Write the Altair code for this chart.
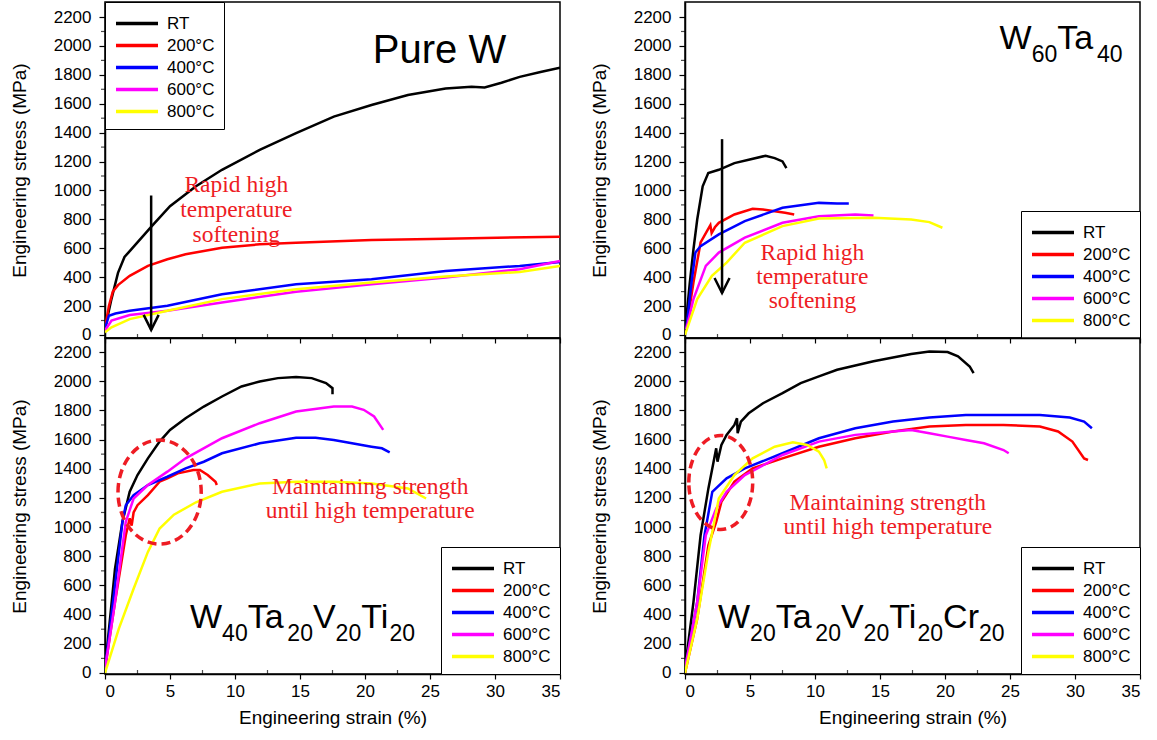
import altair as alt
import pandas as pd

SANS = "Liberation Sans, Arial, sans-serif"
SERIF = "Liberation Serif, Times New Roman, serif"
RED = "#ee1c24"

SERIES = ["RT", "200°C", "400°C", "600°C", "800°C"]
COLORS = ["#000000", "#ff0000", "#0000ff", "#ff00ff", "#ffff00"]

X_TICKS = [0, 5, 10, 15, 20, 25, 30, 35]
Y_TICKS = [0, 200, 400, 600, 800, 1000, 1200, 1400, 1600, 1800, 2000, 2200]
X_MINOR = [2.5, 7.5, 12.5, 17.5, 22.5, 27.5, 32.5]
Y_MINOR = [100, 300, 500, 700, 900, 1100, 1300, 1500, 1700, 1900, 2100]

# ---------------- Pure W ----------------
pw_rt_x = [0, 0.5, 1.0, 1.5, 1.8, 3.6, 5.0, 7.0, 9.0, 11.9, 14.7, 17.6, 20.5, 23.3, 26.2, 28.2, 29.2, 30.5, 31.9, 33.5, 35]
pw_rt_y = [45, 250, 430, 540, 570, 753, 891, 1029, 1143, 1281, 1396, 1511, 1591, 1660, 1706, 1717, 1713, 1745, 1786, 1820, 1850]
pw_200_x = [0, 0.3, 0.6, 1.0, 1.9, 3.3, 4.8, 6.2, 9.0, 11.9, 14.7, 20.5, 26.2, 35]
pw_200_y = [45, 200, 300, 345, 409, 478, 524, 558, 604, 627, 638, 657, 666, 680]
pw_400_x = [0, 0.3, 0.8, 1.9, 4.8, 9.0, 14.7, 20.5, 26.2, 31.9, 35]
pw_400_y = [45, 133, 148, 168, 202, 282, 351, 386, 443, 478, 505]
pw_600_x = [0, 0.5, 1.9, 4.8, 9.0, 14.7, 20.5, 26.2, 31.9, 35]
pw_600_y = [30, 99, 138, 168, 225, 299, 351, 397, 455, 512]
pw_800_x = [0, 0.5, 1.9, 4.8, 9.0, 14.7, 20.5, 26.2, 31.9, 35]
pw_800_y = [18, 53, 110, 168, 248, 317, 363, 404, 436, 478]

# ---------------- W60Ta40 ----------------
wt_rt_x = [0, 0.37, 0.65, 0.94, 1.36, 1.79, 2.6, 3.8, 4.9, 6.2, 6.9, 7.5, 7.8]
wt_rt_y = [18, 363, 592, 799, 1029, 1120, 1143, 1189, 1212, 1240, 1224, 1201, 1155]
wt_200_x = [0.1, 0.65, 1.2, 1.7, 1.95, 2.05, 2.3, 2.6, 3.8, 5.2, 6.0, 6.9, 7.7, 8.4]
wt_200_y = [41, 363, 640, 720, 760, 705, 745, 776, 834, 873, 868, 856, 845, 834]
wt_400_x = [0.1, 0.5, 0.8, 1.2, 2.6, 4.6, 7.5, 10.3, 11.7, 12.6]
wt_400_y = [41, 363, 570, 615, 696, 788, 880, 914, 909, 909]
wt_600_x = [0.1, 0.65, 1.6, 2.6, 4.6, 7.5, 10.3, 13.1, 14.5]
wt_600_y = [41, 248, 478, 570, 673, 776, 822, 834, 827]
wt_800_x = [0, 0.94, 2.07, 3.2, 4.6, 7.5, 10.3, 14.5, 17.4, 18.8, 19.8]
wt_800_y = [0, 248, 409, 501, 638, 753, 806, 811, 799, 781, 742]

# ---------------- W40Ta20V20Ti20 ----------------
b1_rt_x = [0, 0.77, 1.34, 1.9, 2.5, 3.3, 4.2, 5.0, 6.2, 7.6, 9.0, 10.5, 11.9, 13.3, 14.7, 15.9, 17.0, 17.5, 17.5]
b1_rt_y = [27, 715, 1036, 1242, 1357, 1471, 1586, 1666, 1746, 1826, 1895, 1964, 1998, 2021, 2028, 2021, 1987, 1952, 1911]
b1_200_x = [0, 0.77, 1.6, 1.9, 2.05, 2.2, 2.5, 3.3, 4.2, 4.8, 5.6, 6.8, 7.3, 7.9, 8.5, 8.6]
b1_200_y = [27, 486, 944, 1060, 1010, 1100, 1150, 1219, 1311, 1334, 1368, 1391, 1391, 1357, 1311, 1288]
b1_400_x = [0, 0.77, 1.34, 1.6, 2.2, 3.3, 4.8, 6.2, 7.6, 9.0, 11.9, 14.7, 16.2, 17.6, 19.0, 20.5, 21.3, 21.9]
b1_400_y = [27, 600, 1036, 1150, 1219, 1288, 1345, 1402, 1448, 1506, 1574, 1613, 1613, 1597, 1574, 1551, 1540, 1512]
b1_600_x = [0, 0.77, 1.6, 2.2, 3.3, 4.8, 6.2, 9.0, 11.9, 14.7, 17.6, 19.0, 19.9, 20.7, 21.4]
b1_600_y = [27, 486, 1036, 1196, 1288, 1380, 1471, 1609, 1712, 1792, 1826, 1826, 1804, 1758, 1666]
b1_800_x = [0, 1.06, 2.2, 3.3, 4.2, 5.3, 7.0, 9.0, 11.9, 14.7, 17.6, 20.5, 23.3, 24.7]
b1_800_y = [0, 302, 577, 830, 990, 1085, 1170, 1242, 1299, 1311, 1311, 1299, 1265, 1196]

# ---------------- W20Ta20V20Ti20Cr20 ----------------
b2_rt_x = [0, 0.65, 1.2, 1.8, 2.2, 2.4, 2.5, 2.8, 3.2, 3.8, 4.0, 4.05, 4.3, 4.9, 6.0, 7.5, 8.9, 10.3, 11.7, 14.5, 17.4, 18.8, 20.2, 21.0, 21.9, 22.2]
b2_rt_y = [27, 486, 944, 1265, 1448, 1540, 1448, 1563, 1632, 1700, 1746, 1643, 1723, 1780, 1849, 1918, 1987, 2033, 2078, 2136, 2186, 2204, 2200, 2170, 2101, 2055]
b2_200_x = [0, 0.94, 1.8, 2.4, 2.8, 3.8, 5.2, 7.5, 10.3, 13.1, 16.0, 18.8, 21.6, 24.5, 27.3, 28.7, 29.8, 30.7, 31.0]
b2_200_y = [0, 371, 875, 1036, 1173, 1311, 1402, 1471, 1551, 1609, 1655, 1689, 1700, 1700, 1689, 1655, 1586, 1471, 1460]
b2_400_x = [0, 0.94, 1.5, 2.1, 3.2, 4.6, 7.5, 10.3, 13.1, 16.0, 18.8, 21.6, 24.5, 27.3, 29.6, 30.7, 31.3]
b2_400_y = [27, 486, 944, 1242, 1334, 1402, 1506, 1609, 1677, 1723, 1751, 1769, 1769, 1769, 1751, 1723, 1677]
b2_600_x = [0, 0.94, 1.6, 2.4, 3.2, 4.6, 7.5, 10.3, 13.1, 16.0, 17.4, 18.8, 20.2, 21.6, 23.0, 24.5, 24.9]
b2_600_y = [27, 486, 944, 1127, 1242, 1356, 1494, 1586, 1632, 1655, 1666, 1643, 1620, 1597, 1574, 1528, 1506]
b2_800_x = [0, 0.94, 1.8, 2.6, 3.8, 5.2, 6.9, 8.3, 9.4, 10.3, 10.7, 10.9]
b2_800_y = [0, 371, 830, 1196, 1356, 1471, 1551, 1581, 1563, 1517, 1460, 1402]

# annotation texts
SOFT_LINES = ["Rapid high", "temperature", "softening"]
KEEP_LINES = ["Maintaining strength", "until high temperature"]

CHAR_W = {"W": 0.944, "P": 0.667, "u": 0.556, "r": 0.333, "e": 0.556, " ": 0.278,
          "T": 0.611, "a": 0.556, "V": 0.667, "i": 0.222, "C": 0.722}


def text_width(s, size):
    return sum(CHAR_W.get(c, 0.556) for c in s) * size


def curves(pairs):
    rows = []
    for name, xs, ys in pairs:
        for i, (x, y) in enumerate(zip(xs, ys)):
            rows.append({"series": name, "i": i, "strain": x, "stress": y})
    return pd.DataFrame(rows)


def formula(pieces, x0, y0, big=34, small=23, drop=13):
    def build(XE, YE):
        layers = []
        dx = 0.0
        for txt, sub in pieces:
            size = small if sub else big
            df = pd.DataFrame({"strain": [x0], "stress": [y0], "t": [txt]})
            layers.append(
                alt.Chart(df).mark_text(align="left", baseline="alphabetic", font=SANS,
                                        fontSize=size, dx=dx, dy=drop if sub else 0,
                                        color="black")
                .encode(x=XE, y=YE, text="t:N")
            )
            dx += text_width(txt, size)
        return layers
    return build


def red_text(lines, x0, ys, size=23.5):
    def build(XE, YE):
        df = pd.DataFrame({"strain": [x0] * len(lines), "stress": ys, "t": lines})
        return [alt.Chart(df).mark_text(font=SERIF, fontSize=size, color=RED,
                                        align="center", baseline="middle").encode(
            x=XE, y=YE, text="t:N")]
    return build


def arrow(x0, y_top, y_tip):
    def build(XE, YE):
        df = pd.DataFrame({"strain": [x0], "stress": [y_top], "stress2": [y_tip]})
        shaft = alt.Chart(df).mark_rule(color="black", strokeWidth=2.5).encode(
            x=XE, y=YE, y2="stress2:Q")
        dfh = pd.DataFrame({"strain": [x0], "stress": [y_tip]})
        head = alt.Chart(dfh).mark_point(shape="M -0.75 -1.5 L 0 0 L 0.75 -1.5", size=400,
                                         filled=False, color="black", strokeWidth=2.5,
                                         opacity=1).encode(x=XE, y=YE)
        return [shaft, head]
    return build


def ellipse(x0, y0, ratio, size):
    def build(XE, YE):
        path = f"M {-ratio} 0 A {ratio} 1 0 1 1 {ratio} 0 A {ratio} 1 0 1 1 {-ratio} 0"
        df = pd.DataFrame({"strain": [x0], "stress": [y0]})
        return [alt.Chart(df).mark_point(shape=path, size=size, filled=False, color=RED,
                                         strokeWidth=3.5, strokeDash=[9, 5], opacity=1).encode(
            x=XE, y=YE)]
    return build


def minor_ticks(height, XE, YE):
    ym = alt.Chart(pd.DataFrame({"stress": Y_MINOR})).mark_tick(
        orient="horizontal", size=4, thickness=1.2, color="black", clip=False).encode(
        y=YE, x=alt.value(-2))
    xm = alt.Chart(pd.DataFrame({"strain": X_MINOR})).mark_tick(
        orient="vertical", size=4, thickness=1.2, color="black", clip=False).encode(
        x=XE, y=alt.value(height - 2))
    return [ym, xm]


def panel(df, bottom, ydom, height, lx, ly, builders):
    xaxis = alt.Axis(values=X_TICKS, title="Engineering strain (%)" if bottom else None,
                     labels=bottom, tickSize=5, labelPadding=4, titlePadding=9,
                     labelFontSize=17, titleFontSize=19, grid=False, labelOverlap=False)
    yaxis = alt.Axis(values=Y_TICKS, title="Engineering stress (MPa)", tickSize=6,
                     labelPadding=8, titlePadding=24, labelFontSize=17, format="d",
                     titleFontSize=19, grid=False, labelOverlap=False)
    XE = alt.X("strain:Q", scale=alt.Scale(domain=[0, 35], nice=False, zero=False), axis=xaxis)
    YE = alt.Y("stress:Q", scale=alt.Scale(domain=ydom, nice=False, zero=False), axis=yaxis)
    lines = alt.Chart(df).mark_line(strokeWidth=2.5, clip=True).encode(
        x=XE, y=YE,
        color=alt.Color("series:N", scale=alt.Scale(domain=SERIES, range=COLORS),
                        legend=alt.Legend(orient="none", legendX=lx, legendY=ly, title=None,
                                          symbolType="M -1 0 L 3 0", symbolSize=441,
                                          symbolStrokeWidth=3.5, labelFontSize=17,
                                          labelFont=SANS, labelColor="black",
                                          strokeColor="black", fillColor="white",
                                          padding=9, rowPadding=1, labelOffset=28)),
        order="i:Q",
    )
    extras = []
    for b in builders:
        extras.extend(b(XE, YE))
    return alt.layer(lines, *minor_ticks(height, XE, YE), *extras).properties(width=455, height=height)


LX = 336
LY = 209

p1 = panel(
    curves([("RT", pw_rt_x, pw_rt_y), ("200°C", pw_200_x, pw_200_y), ("400°C", pw_400_x, pw_400_y),
            ("600°C", pw_600_x, pw_600_y), ("800°C", pw_800_x, pw_800_y)]),
    False, [-21, 2304], 336, 0, 0,
    [red_text(SOFT_LINES, 10.1, [1038, 865, 692]), arrow(3.55, 965, 35),
     formula([("Pure W", False)], 20.6, 1882, big=40)],
)
p2 = panel(
    curves([("RT", wt_rt_x, wt_rt_y), ("200°C", wt_200_x, wt_200_y), ("400°C", wt_400_x, wt_400_y),
            ("600°C", wt_600_x, wt_600_y), ("800°C", wt_800_x, wt_800_y)]),
    False, [-21, 2304], 336, LX, LY,
    [red_text(SOFT_LINES, 9.8, [567, 401, 235]), arrow(2.85, 1355, 290),
     formula([("W", False), ("60", True), ("Ta", False), ("40", True)], 24.2, 1979)],
)
p3 = panel(
    curves([("RT", b1_rt_x, b1_rt_y), ("200°C", b1_200_x, b1_200_y), ("400°C", b1_400_x, b1_400_y),
            ("600°C", b1_600_x, b1_600_y), ("800°C", b1_800_x, b1_800_y)]),
    True, [-7, 2296], 336, LX, LY,
    [red_text(KEEP_LINES, 20.4, [1275, 1110]), ellipse(4.2, 1240, 0.8, 10816),
     formula([("W", False), ("40", True), ("Ta", False), ("20", True), ("V", False),
              ("20", True), ("Ti", False), ("20", True)], 6.54, 308)],
)
p4 = panel(
    curves([("RT", b2_rt_x, b2_rt_y), ("200°C", b2_200_x, b2_200_y), ("400°C", b2_400_x, b2_400_y),
            ("600°C", b2_600_x, b2_600_y), ("800°C", b2_800_x, b2_800_y)]),
    True, [-7, 2296], 336, LX, LY,
    [red_text(KEEP_LINES, 15.6, [1165, 1000]), ellipse(2.75, 1306, 0.68, 8836),
     formula([("W", False), ("20", True), ("Ta", False), ("20", True), ("V", False),
              ("20", True), ("Ti", False), ("20", True), ("Cr", False), ("20", True)], 2.54, 308)],
)

chart = (
    alt.concat(p1, p2, p3, p4, columns=2, spacing={"row": 0, "column": 125}, bounds="flush")
    .resolve_scale(color="independent", x="independent", y="independent")
    .resolve_legend(color="independent")
    .properties(padding={"left": 9, "top": 0, "right": 5, "bottom": 5}, background="white")
    .configure_view(stroke="black", strokeWidth=1.5)
    .configure_axis(labelFont=SANS, titleFont=SANS, labelColor="black", titleColor="black",
                    domainColor="black", tickColor="black", titleFontWeight="normal",
                    domainWidth=1.5, tickWidth=1.2, labelFontSize=17, titleFontSize=19,
                    labelOverlap=False)
)

chart.save("out.html", embed_options={"renderer": "svg", "actions": False})
